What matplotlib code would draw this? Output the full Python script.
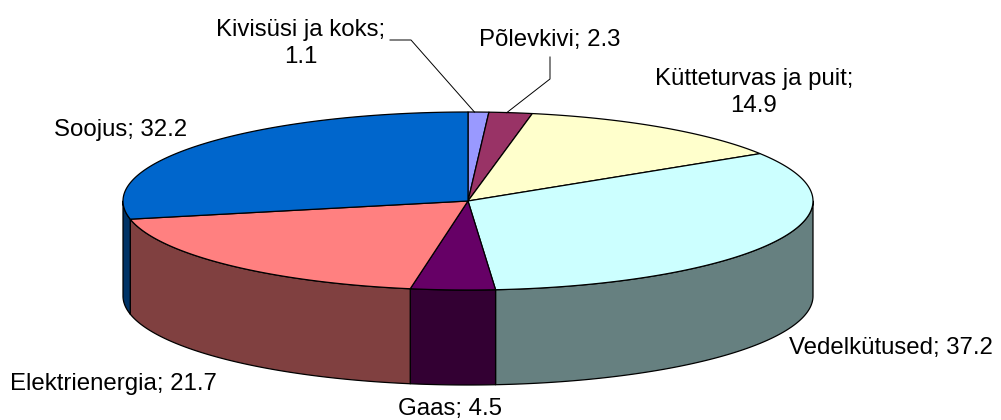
import numpy as np
import matplotlib.pyplot as plt
from matplotlib.patches import Polygon

plt.rcParams['font.family'] = ['Liberation Sans', 'DejaVu Sans']

labels = ['Kivisüsi ja koks', 'Põlevkivi', 'Kütteturvas ja puit', 'Vedelkütused',
          'Gaas', 'Elektrienergia', 'Soojus']
values = [1.1, 2.3, 14.9, 37.2, 4.5, 21.7, 32.2]
top_colors = ['#9999FF', '#993366', '#FFFFCC', '#CCFFFF', '#660066', '#FF8080', '#0066CC']
side_colors = ['#4D4D80', '#4D1A33', '#808066', '#668080', '#330033', '#804040', '#003366']

# pie layout (pixel units of the 1001x420 canvas)
cx, cy = 468, 201
a, b = 345, 89
depth = 95

# label placement: (x, y of last baseline, text, leader)
label_pos = [(301, 63, 'Kivisüsi ja koks;\n1.1', [(390, 40), (411, 40)]),
             (550, 46, 'Põlevkivi; 2.3', [(550, 57), (550, 79)]),
             (754, 112, 'Kütteturvas ja puit;\n14.9', None),
             (891, 354, 'Vedelkütused; 37.2', None),
             (450, 415, 'Gaas; 4.5', None),
             (113, 390, 'Elektrienergia; 21.7', None),
             (121, 136, 'Soojus; 32.2', None)]


def pt(theta, dy=0.0):
    # theta in degrees, clockwise from 12 o'clock
    t = np.radians(theta)
    return cx + a * np.sin(t), cy - b * np.cos(t) + dy


fig = plt.figure(figsize=(10.01, 4.2), dpi=100)
ax = fig.add_axes([0, 0, 1, 1])
ax.set_xlim(0, 1001)
ax.set_ylim(420, 0)
ax.axis('off')

total = sum(values)
bounds = np.concatenate([[0], np.cumsum(values) / total * 360])

# side walls (front half only)
for i in range(len(values)):
    t1, t2 = max(bounds[i], 90), min(bounds[i + 1], 270)
    if t2 <= t1:
        continue
    th = np.linspace(t1, t2, 100)
    xs, ys = pt(th)
    xb, yb = pt(th[::-1], depth)
    poly = np.column_stack([np.concatenate([xs, xb]), np.concatenate([ys, yb])])
    ax.add_patch(Polygon(poly, closed=True, facecolor=side_colors[i],
                         edgecolor='black', lw=0.9, joinstyle='round'))

# top faces
for i in range(len(values)):
    th = np.linspace(bounds[i], bounds[i + 1], 200)
    xs, ys = pt(th)
    poly = np.column_stack([np.concatenate([[cx], xs]), np.concatenate([[cy], ys])])
    ax.add_patch(Polygon(poly, closed=True, facecolor=top_colors[i],
                         edgecolor='black', lw=0.9, joinstyle='round'))

# labels and leader lines
for i, (lx, ly, txt, lead) in enumerate(label_pos):
    ax.text(lx, ly, txt, ha='center', va='baseline', fontsize=17.3,
            linespacing=1.28, color='black')
    if lead is not None:
        mx, my = pt((bounds[i] + bounds[i + 1]) / 2)
        px = [p[0] for p in lead] + [mx - 4]
        py = [p[1] for p in lead] + [my]
        ax.plot(px, py, color='black', lw=0.7)

plt.savefig('out.png', dpi=100)
